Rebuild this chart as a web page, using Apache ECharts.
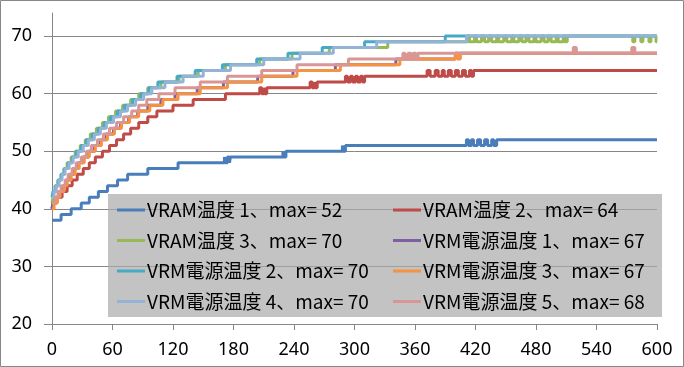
<!DOCTYPE html>
<html>
<head>
<meta charset="utf-8">
<script src="https://cdn.jsdelivr.net/npm/echarts@6/dist/echarts.min.js"></script>
<style>
html,body{margin:0;padding:0;background:#fff;}
#chart{width:684px;height:367px;}
</style>
</head>
<body>
<div id="chart"></div>
<script>
// Series names (legend text)
const seriesNames = [
  'VRAM温度 1、max= 52',
  'VRAM温度 2、max= 64',
  'VRAM温度 3、max= 70',
  'VRM電源温度 1、max= 67',
  'VRM電源温度 2、max= 70',
  'VRM電源温度 3、max= 67',
  'VRM電源温度 4、max= 70',
  'VRM電源温度 5、max= 68'
];

// Step-change points: time (s) and temperature held from that time
const vram1T = [0, 9, 19, 29, 37, 46, 55, 65, 75, 95, 125, 171, 172, 174, 176, 177, 229, 230, 232, 288, 289, 291, 411, 413, 416, 418, 422, 425, 429, 432, 436, 438, 441];
const vram1V = [38, 39, 40, 41, 42, 43, 44, 45, 46, 47, 48, 49, 48, 49, 48, 49, 50, 49, 50, 51, 50, 51, 52, 51, 52, 51, 52, 51, 52, 51, 52, 51, 52];

const vram2T = [0, 1, 5, 10, 15, 20, 25, 31, 37, 43, 50, 57, 64, 71, 78, 86, 95, 104, 120, 140, 172, 206, 208, 210, 211, 213, 256, 258, 260, 261, 263, 291, 293, 296, 298, 301, 303, 306, 308, 310, 372, 375, 380, 383, 387, 389, 393, 396, 400, 403, 407, 410, 414, 416, 418];
const vram2V = [40, 41, 42, 43, 44, 45, 46, 47, 48, 49, 50, 51, 52, 53, 54, 55, 56, 57, 58, 59, 60, 61, 60, 61, 60, 61, 62, 61, 62, 61, 62, 63, 62, 63, 62, 63, 62, 63, 62, 63, 64, 63, 64, 63, 64, 63, 64, 63, 64, 63, 64, 63, 64, 63, 64];

const vram3T = [0, 1, 2, 4, 6, 9, 12, 15, 19, 23, 28, 33, 38, 44, 50, 56, 63, 70, 78, 86, 95, 108, 126, 145, 172, 206, 238, 275, 333, 412, 414, 419, 421, 426, 429, 433, 436, 441, 443, 448, 451, 456, 458, 463, 466, 470, 473, 478, 480, 485, 488, 492, 495, 500, 502, 507, 509, 511, 576, 578, 584, 586, 592, 594, 599];
const vram3V = [41, 42, 43, 44, 45, 46, 47, 48, 49, 50, 51, 52, 53, 54, 55, 56, 57, 58, 59, 60, 61, 62, 63, 64, 65, 66, 67, 68, 69, 70, 69, 70, 69, 70, 69, 70, 69, 70, 69, 70, 69, 70, 69, 70, 69, 70, 69, 70, 69, 70, 69, 70, 69, 70, 69, 70, 69, 70, 69, 70, 69, 70, 69, 70, 69];

const vrm1T = [0, 1, 4, 7, 11, 14, 18, 22, 26, 31, 36, 42, 48, 54, 61, 68, 76, 85, 95, 108, 122, 144, 170, 204, 239, 281, 341, 400];
const vrm1V = [40, 41, 42, 43, 44, 45, 46, 47, 48, 49, 50, 51, 52, 53, 54, 55, 56, 57, 58, 59, 60, 61, 62, 63, 64, 65, 66, 67];

const vrm2T = [0, 1, 3, 6, 9, 12, 16, 20, 24, 29, 34, 40, 46, 52, 58, 65, 72, 80, 88, 96, 105, 124, 142, 169, 203, 234, 268, 310, 390];
const vrm2V = [42, 43, 44, 45, 46, 47, 48, 49, 50, 51, 52, 53, 54, 55, 56, 57, 58, 59, 60, 61, 62, 63, 64, 65, 66, 67, 68, 69, 70];

const vrm3T = [0, 2, 5, 8, 12, 15, 19, 23, 27, 32, 37, 43, 49, 55, 62, 69, 77, 86, 97, 110, 125, 147, 174, 208, 243, 286, 345, 400, 402, 405];
const vrm3V = [40, 41, 42, 43, 44, 45, 46, 47, 48, 49, 50, 51, 52, 53, 54, 55, 56, 57, 58, 59, 60, 61, 62, 63, 64, 65, 66, 67, 66, 67];

const vrm4T = [0, 2, 4, 7, 10, 13, 17, 21, 26, 31, 36, 42, 48, 54, 61, 68, 75, 83, 91, 99, 112, 130, 150, 177, 210, 246, 279, 322, 411];
const vrm4V = [42, 43, 44, 45, 46, 47, 48, 49, 50, 51, 52, 53, 54, 55, 56, 57, 58, 59, 60, 61, 62, 63, 64, 65, 66, 67, 68, 69, 70];

const vrm5T = [0, 3, 6, 9, 13, 16, 20, 24, 29, 34, 39, 45, 51, 57, 64, 71, 79, 86, 94, 106, 122, 147, 174, 208, 243, 294, 348, 350, 353, 356, 358, 361, 363, 517, 520, 575, 578];
const vrm5V = [41, 42, 43, 44, 45, 46, 47, 48, 49, 50, 51, 52, 53, 54, 55, 56, 57, 58, 59, 60, 61, 62, 63, 64, 65, 66, 67, 66, 67, 66, 67, 66, 67, 68, 67, 68, 67];

const endTime = 600;
const xTicks = [0, 60, 120, 180, 240, 300, 360, 420, 480, 540, 600];
const yTicks = [20, 30, 40, 50, 60, 70];

const colors = ['#4A7EBB', '#BE4B48', '#98B954', '#7D60A0', '#46AAC5', '#F69240', '#95B3D7', '#D99694'];

const allT = [vram1T, vram2T, vram3T, vrm1T, vrm2T, vrm3T, vrm4T, vrm5T];
const allV = [vram1V, vram2V, vram3V, vrm1V, vrm2V, vrm3V, vrm4V, vrm5V];

function buildData(T, V) {
  const d = T.map((t, i) => [t, V[i]]);
  d.push([endTime, V[V.length - 1]]);
  return d;
}

const series = seriesNames.map((name, i) => ({
  name: name,
  type: 'line',
  step: 'end',
  showSymbol: false,
  symbol: 'none',
  animation: false,
  lineStyle: { width: 3, color: colors[i] },
  itemStyle: { color: colors[i] },
  data: buildData(allT[i], allV[i])
}));

const legendText = { fontFamily: 'Noto Sans CJK JP', fontSize: 19, color: '#000', lineHeight: 20, padding: [0, 0, 0, -3] };

const chart = echarts.init(document.getElementById('chart'), null, { renderer: 'canvas' });
chart.setOption({
  animation: false,
  color: colors,
  grid: { left: 52, right: 27, top: 13, bottom: 43, containLabel: false },
  xAxis: {
    type: 'value', min: 0, max: 600, interval: 60,
    axisLine: { show: true, lineStyle: { color: '#868686', width: 1 } },
    axisTick: { show: true, inside: false, length: 6, lineStyle: { color: '#868686' } },
    axisLabel: { margin: 17, color: '#000', fontFamily: 'Noto Sans', fontSize: 18, customValues: xTicks },
    splitLine: { show: false }
  },
  yAxis: {
    type: 'value', min: 20, max: 74, interval: 10,
    axisLine: { show: true, lineStyle: { color: '#868686', width: 1 } },
    axisTick: { show: true, inside: false, length: 8, lineStyle: { color: '#868686' }, customValues: yTicks },
    axisLabel: { margin: 20, color: '#000', fontFamily: 'Noto Sans', fontSize: 18, customValues: yTicks },
    splitLine: { show: true, lineStyle: { color: ['#868686', '#868686', '#868686', '#868686', '#868686', '#868686', 'rgba(0,0,0,0)'], width: 1 } }
  },
  legend: [
    {
      orient: 'vertical', left: 117, top: 200, padding: 0, itemGap: 10.5,
      itemWidth: 28, itemHeight: 3, icon: 'rect',
      data: [seriesNames[0], seriesNames[2], seriesNames[4], seriesNames[6]],
      textStyle: legendText, selectedMode: false
    },
    {
      orient: 'vertical', left: 393, top: 200, padding: 0, itemGap: 10.5,
      itemWidth: 28, itemHeight: 3, icon: 'rect',
      data: [seriesNames[1], seriesNames[3], seriesNames[5], seriesNames[7]],
      textStyle: legendText, selectedMode: false
    }
  ],
  graphic: [
    { type: 'rect', z: 3, shape: { x: 108, y: 194, width: 554, height: 123 }, style: { fill: 'rgba(170,170,170,0.7)' }, silent: true },
    { type: 'rect', z: 10, shape: { x: 0.5, y: 0.5, width: 683, height: 366 }, style: { fill: 'none', stroke: '#878787', lineWidth: 1 }, silent: true }
  ],
  series: series
});
</script>
</body>
</html>
